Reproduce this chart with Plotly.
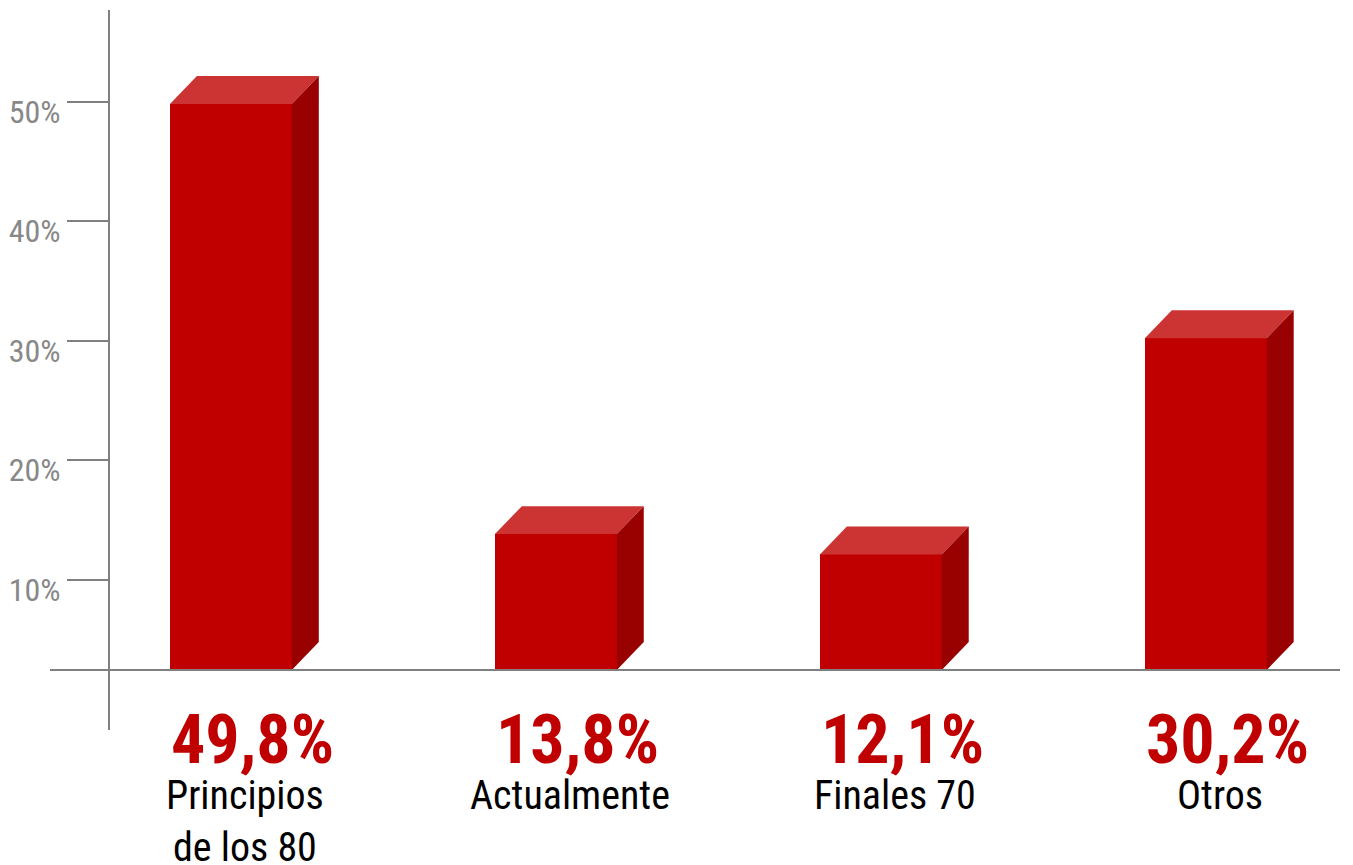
import plotly.graph_objects as go
import numpy as np

# ---- data ----
categories = ["Principios<br>de los 80", "Actualmente", "Finales 70", "Otros"]
values = [49.8, 13.8, 12.1, 30.2]
value_labels = ["49,8%", "13,8%", "12,1%", "30,2%"]
tick_values = [10, 20, 30, 40, 50]
tick_labels = ["10%", "20%", "30%", "40%", "50%"]

# ---- style ----
FONT = "Liberation Sans Narrow, Arial Narrow, Roboto Condensed, DejaVu Sans Condensed, sans-serif"
FRONT = "#C00000"
TOP = "#CC3333"
SIDE = "#990000"
AXIS = "#808080"
BASE = 2.43      # value where the category axis line sits
BAR_W = 0.375    # bar width in category units
DX = 0.083       # depth offset (x units)
DY = 2.34        # depth offset (y units)

idx = np.arange(len(categories))
vals = np.array(values)

fig = go.Figure()
fig.add_trace(go.Bar(
    x=idx, y=vals - BASE, base=BASE, width=BAR_W,
    marker=dict(color=FRONT, line=dict(width=0)),
    hoverinfo="skip", showlegend=False,
))

for i, v in zip(idx, vals):
    xl, xr = i - BAR_W / 2, i + BAR_W / 2
    # top face
    fig.add_trace(go.Scatter(
        x=[xl, xr, xr + DX, xl + DX, xl],
        y=[v, v, v + DY, v + DY, v],
        fill="toself", fillcolor=TOP, mode="lines",
        line=dict(width=0, color=TOP),
        hoverinfo="skip", showlegend=False,
    ))
    # side face
    fig.add_trace(go.Scatter(
        x=[xr, xr + DX, xr + DX, xr, xr],
        y=[BASE, BASE + DY, v + DY, v, BASE],
        fill="toself", fillcolor=SIDE, mode="lines",
        line=dict(width=0, color=SIDE),
        hoverinfo="skip", showlegend=False,
    ))

annotations = []
for i, lab, cat in zip(idx, value_labels, categories):
    annotations.append(dict(
        x=i, y=BASE, xref="x", yref="y", text=lab, showarrow=False,
        xanchor="center", yanchor="top", xshift=22, yshift=-28,
        font=dict(family=FONT, size=68, color=FRONT, weight="bold"),
    ))
    annotations.append(dict(
        x=i, y=BASE, xref="x", yref="y", text=cat, showarrow=False,
        xanchor="center", yanchor="top", xshift=14, yshift=-100,
        font=dict(family=FONT, size=40, color="#000000"),
    ))

fig.update_layout(
    width=1345, height=857, autosize=False,
    margin=dict(l=102, r=13, t=2, b=135),
    paper_bgcolor="white", plot_bgcolor="white",
    bargap=0,
    xaxis=dict(range=[-0.372, 3.413], showgrid=False, zeroline=False,
               showticklabels=False, showline=False, ticks=""),
    yaxis=dict(range=[-2.594, 57.66], showgrid=False, zeroline=False,
               showline=True, linecolor=AXIS, linewidth=2,
               tickvals=tick_values, ticktext=tick_labels,
               ticks="outside", ticklen=41, tickwidth=2, tickcolor=AXIS,
               ticklabelshift=10,
               tickfont=dict(family=FONT, size=32, color="#888888")),
    shapes=[dict(type="line", xref="paper", yref="y",
                 x0=(50 - 110) / 1230, x1=1, y0=BASE, y1=BASE,
                 line=dict(color=AXIS, width=2))],
    annotations=annotations,
)

fig.write_html("out.html")
